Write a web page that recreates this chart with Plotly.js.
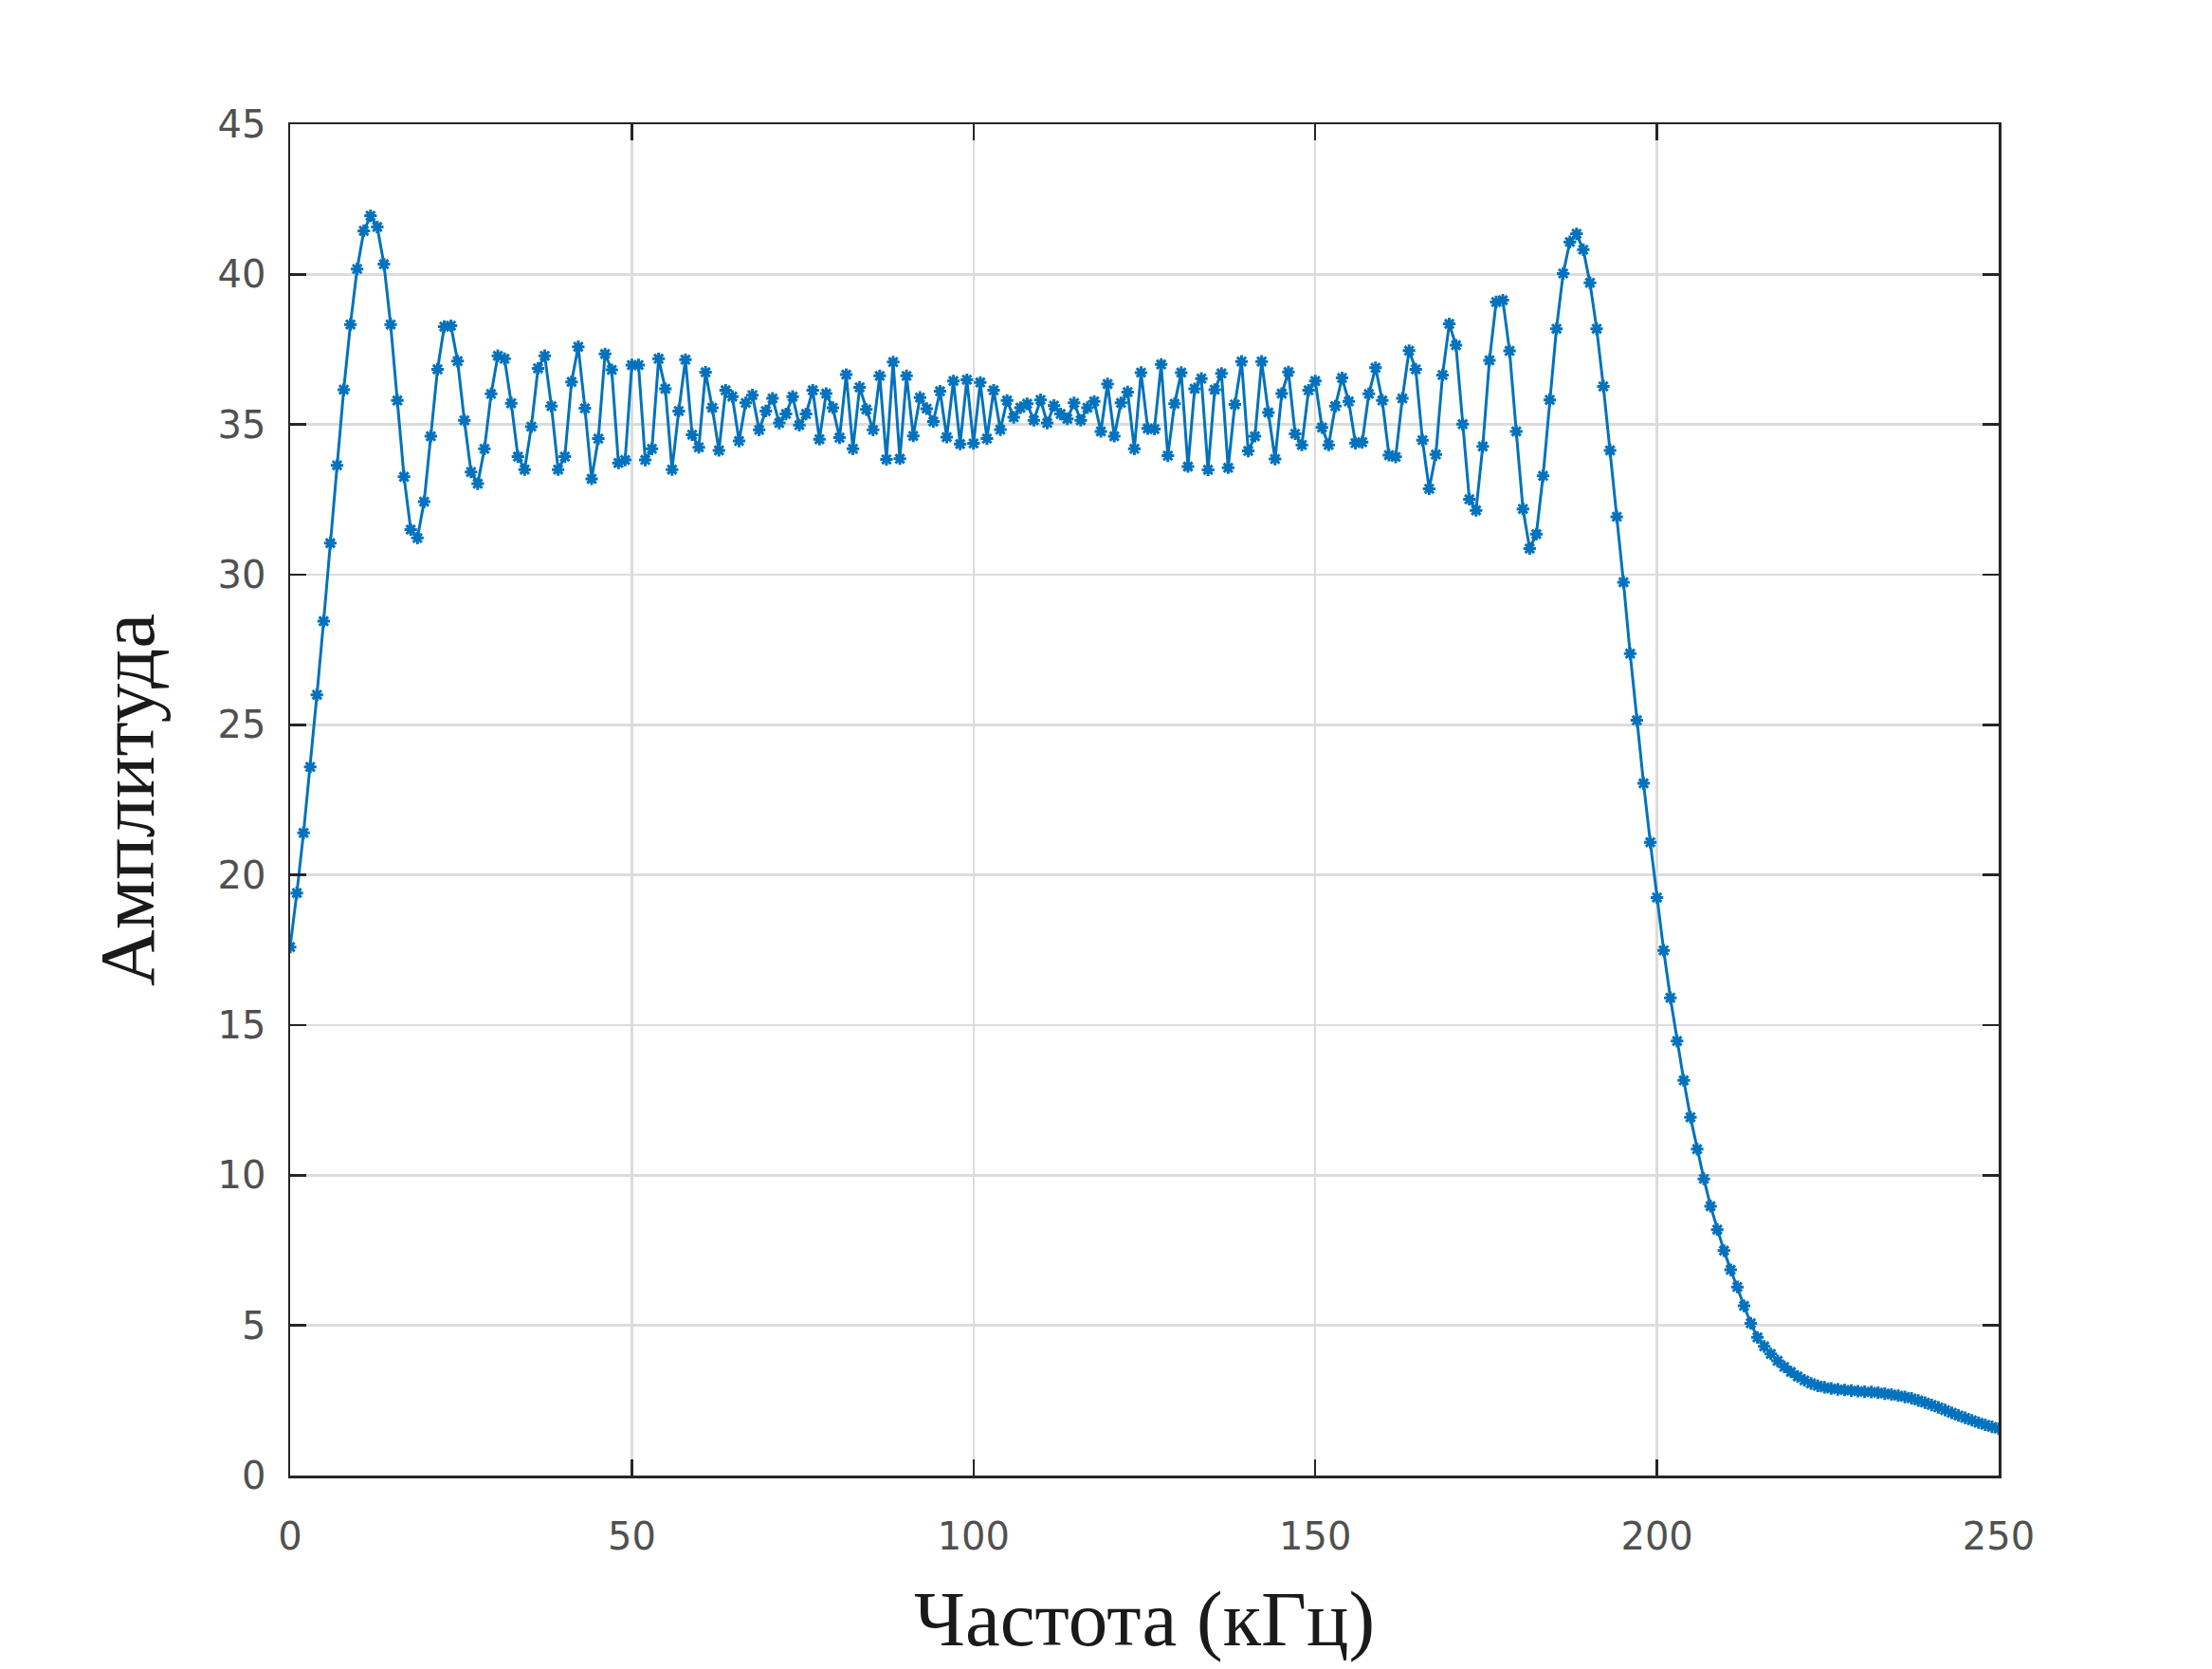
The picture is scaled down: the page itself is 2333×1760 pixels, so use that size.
<!DOCTYPE html>
<html>
<head>
<meta charset="utf-8">
<script src="https://cdn.plot.ly/plotly-3.0.1.min.js"></script>
<style>html,body{margin:0;padding:0;background:#fff;}#chart{width:2333px;height:1760px;}</style>
</head>
<body>
<div id="chart"></div>
<script>
// Frequency bin spacing (kHz): 256 bins from 0 to 250 kHz
const binStep = 250 / 255;

// Amplitude values, in order of frequency bins
const ampRiseAndLeftRipple = [17.6, 19.4, 21.4, 23.6, 26.0, 28.45, 31.05, 33.64, 36.16, 38.33,
  40.18, 41.45, 41.95, 41.58, 40.34, 38.33, 35.80, 33.26, 31.50, 31.22,
  32.43, 34.61, 36.84, 38.26, 38.29, 37.11, 35.14, 33.42, 33.03, 34.19,
  36.02, 37.29, 37.19, 35.71, 33.93, 33.50, 34.93, 36.87, 37.29, 35.61,
  33.50, 33.93, 36.42, 37.59, 35.54, 33.19, 34.53, 37.35, 36.82, 33.72,
  33.82, 36.98, 36.98, 33.82, 34.19, 37.19, 36.19, 33.50];
const ampMidA = [35.45, 37.16, 34.66, 34.24, 36.74, 35.56, 34.14, 36.14, 35.93, 34.45,
  35.72, 35.98, 34.82, 35.45, 35.87, 35.05, 35.35, 35.93, 34.98, 35.35,
  36.14, 34.51, 36.03, 35.56, 34.56, 36.66, 34.19];
const ampMidB = [36.24, 35.50, 34.82, 36.62, 33.84, 37.08, 33.86, 36.62, 34.62, 35.90,
  35.53, 35.10, 36.11, 34.58, 36.45, 34.35, 36.49, 34.37, 36.40, 34.53,
  36.14, 34.83, 35.80, 35.24, 35.56, 35.69, 35.14];
const ampMidC = [35.82, 35.05, 35.63, 35.35, 35.19, 35.72, 35.14, 35.56, 35.77, 34.77,
  36.35, 34.61, 35.72, 36.08, 34.19, 36.73, 34.87, 34.85, 37.00, 33.96,
  35.69, 36.73, 33.60, 36.19, 36.53, 33.49, 36.16, 36.70, 33.56];
const ampMidD = [35.67, 37.10, 34.12, 34.61, 37.10, 35.40, 33.85, 36.03, 36.75, 34.69,
  34.32, 36.14, 36.45, 34.90, 34.32, 35.61, 36.55, 35.77, 34.38, 34.41,
  36.02, 36.89, 35.80, 33.98, 33.92, 35.87, 37.46, 36.84, 34.48, 32.86,
  34.00, 36.65];
const ampRightRippleAndFall = [38.35, 37.64, 35.01, 32.51, 32.14, 34.27, 37.14, 39.08, 39.14, 37.45,
  34.77, 32.19, 30.87, 31.35, 33.29, 35.82, 38.19, 40.03, 41.08, 41.35,
  40.82, 39.72, 38.19, 36.27, 34.14, 31.93, 29.75, 27.37, 25.15, 23.05,
  21.09, 19.25, 17.49, 15.91, 14.47, 13.16, 11.93, 10.87, 9.88, 8.97,
  8.19, 7.49, 6.85, 6.28, 5.65, 5.07];
const ampTail = [4.60, 4.30, 4.05, 3.82, 3.62, 3.45, 3.30, 3.17, 3.07, 2.99,
  2.94, 2.90, 2.87, 2.85, 2.83, 2.81, 2.79, 2.78, 2.76, 2.73,
  2.70, 2.66, 2.62, 2.57, 2.50, 2.43, 2.35, 2.27, 2.18, 2.09,
  2.00, 1.92, 1.84, 1.76, 1.69, 1.62, 1.56];

const xTickVals = [0, 50, 100, 150, 200, 250];
const yTickVals = [0, 5, 10, 15, 20, 25, 30, 35, 40, 45];
const xTitle = 'Частота (кГц)';
const yTitle = 'Амплитуда';

const amplitude = [].concat(ampRiseAndLeftRipple, ampMidA, ampMidB, ampMidC, ampMidD,
  ampRightRippleAndFall, ampTail);
const frequency = amplitude.map((_, i) => i * binStep);

const blue = '#0072BD';
const axisColor = '#262626';
const tickFont = {family: 'DejaVu Sans, Arial, sans-serif', size: 40, color: '#505050'};
const titleFont = {family: 'Liberation Serif, Times New Roman, serif', size: 83, color: '#1a1a1a'};

const trace = {
  x: frequency,
  y: amplitude,
  type: 'scatter',
  mode: 'lines+markers',
  line: {color: blue, width: 3},
  marker: {symbol: 'asterisk-open', size: 11, color: blue, line: {color: blue, width: 3}},
  showlegend: false,
  cliponaxis: true
};

const layout = {
  width: 2333,
  height: 1760,
  margin: {l: 306, r: 225, t: 131, b: 204, pad: 0},
  paper_bgcolor: '#ffffff',
  plot_bgcolor: '#ffffff',
  xaxis: {
    range: [0, 250],
    tickvals: xTickVals,
    ticktext: xTickVals.map(String),
    showgrid: true, gridcolor: '#dcdcdc', gridwidth: 2.5,
    zeroline: false,
    showline: true, linecolor: axisColor, linewidth: 2.5, mirror: 'ticks',
    ticks: 'inside', ticklen: 17, tickwidth: 2.5, tickcolor: axisColor,
    tickfont: tickFont,
    ticklabelstandoff: 27,
    automargin: false,
    title: {text: xTitle, font: titleFont, standoff: 36}
  },
  yaxis: {
    range: [0, 45],
    tickvals: yTickVals,
    ticktext: yTickVals.map(String),
    showgrid: true, gridcolor: '#dcdcdc', gridwidth: 2.5,
    zeroline: false,
    showline: true, linecolor: axisColor, linewidth: 2.5, mirror: 'ticks',
    ticks: 'inside', ticklen: 17, tickwidth: 2.5, tickcolor: axisColor,
    tickfont: tickFont,
    ticklabelstandoff: 15,
    automargin: false,
    title: {text: yTitle, font: titleFont, standoff: 40}
  }
};

Plotly.newPlot('chart', [trace], layout, {staticPlot: true, displayModeBar: false});
</script>
</body>
</html>
